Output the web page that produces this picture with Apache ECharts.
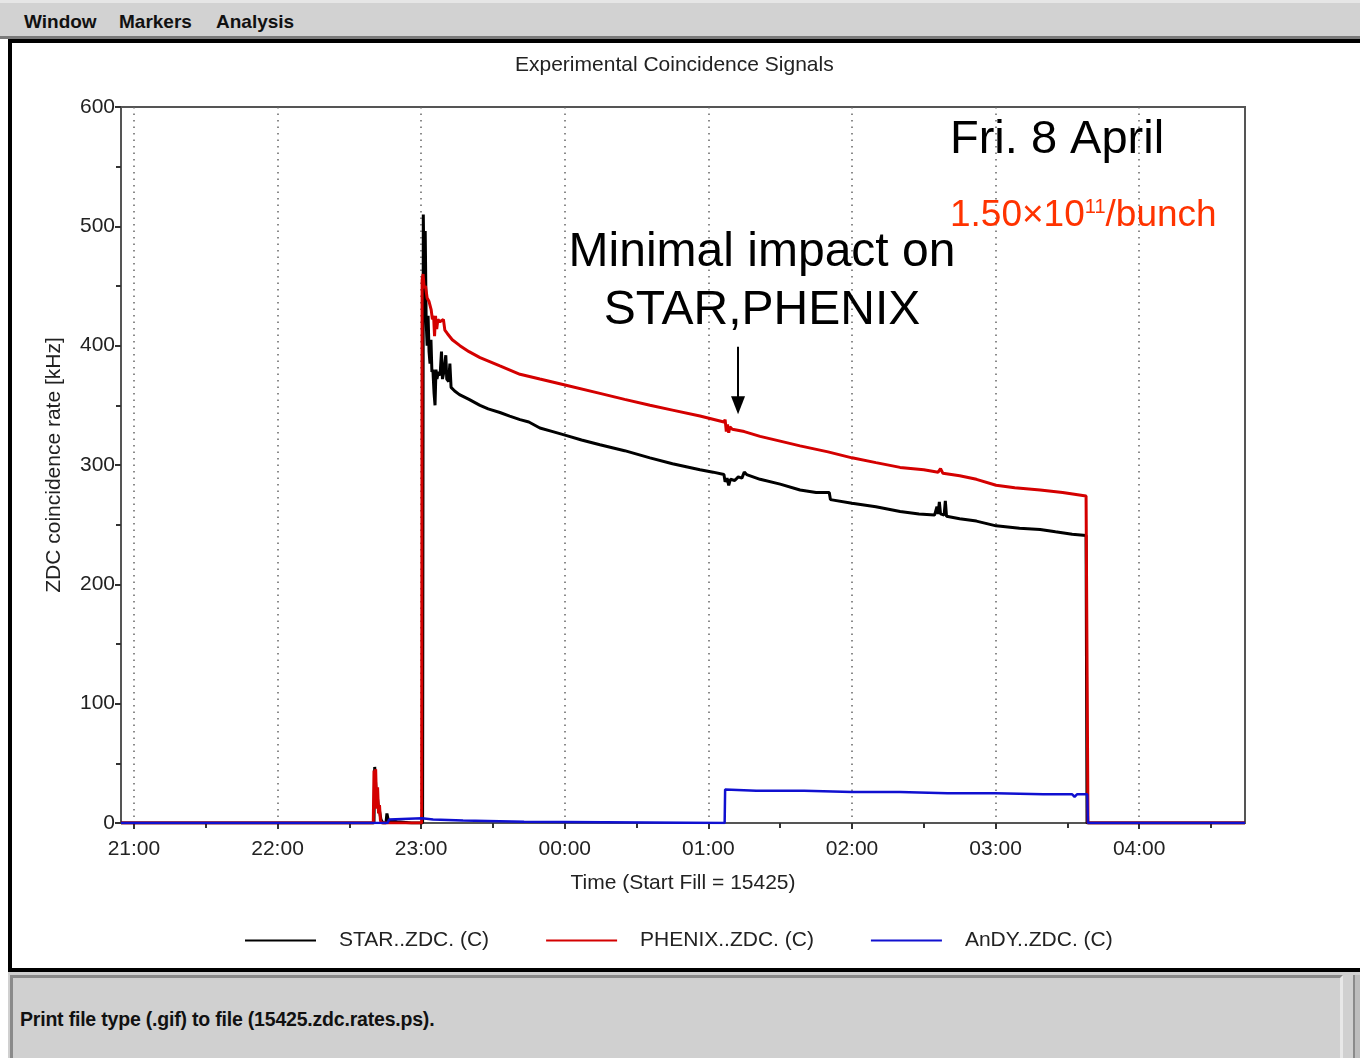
<!DOCTYPE html>
<html>
<head>
<meta charset="utf-8">
<script src="https://cdn.jsdelivr.net/npm/echarts@6/dist/echarts.min.js"></script>
<style>
  html, body { margin: 0; padding: 0; width: 1360px; height: 1058px; overflow: hidden; background: #fff; font-family: "Liberation Sans", Arial, sans-serif; }
  .abs { position: absolute; }
  #menubar { left: 0; top: 0; width: 1360px; height: 36px; background: #d2d2d2; border-top: 3px solid #e6e6e6; box-sizing: border-box; }
  #menubar span { position: absolute; top: 8px; font: bold 19px "Liberation Sans", Arial, sans-serif; color: #111; }
  #menuline { left: 0; top: 36px; width: 1360px; height: 3px; background: #7a7a7a; }
  #topblack { left: 8px; top: 39px; width: 1352px; height: 4px; background: #000; }
  #leftblack { left: 8px; top: 39px; width: 4px; height: 933px; background: #000; }
  #botblack { left: 8px; top: 968px; width: 1352px; height: 4px; background: #000; }
  #status { left: 8px; top: 972px; width: 1352px; height: 86px; background: #d0d0d0; }
  #statusbox { left: 10px; top: 975px; width: 1333px; height: 90px; border-top: 3px solid #8a8a8a; border-left: 3px solid #8a8a8a; border-right: 3px solid #e8e8e8; box-sizing: border-box; background: #d0d0d0; }
  #statustext { left: 20px; top: 1008px; font: bold 19.5px "Liberation Sans", Arial, sans-serif; color: #111; letter-spacing: -0.2px; }
  #scroll { left: 1353px; top: 975px; width: 7px; height: 83px; background: #bdbdbd; border-left: 2px solid #8a8a8a; box-sizing: border-box; }
  #chart { left: 0; top: 0; width: 1360px; height: 1058px; }
</style>
</head>
<body>
<div id="menubar" class="abs"><span style="left:24px">Window</span><span style="left:119px">Markers</span><span style="left:216px">Analysis</span></div>
<div id="menuline" class="abs"></div>
<div id="topblack" class="abs"></div>
<div id="leftblack" class="abs"></div>
<div id="botblack" class="abs"></div>
<div id="status" class="abs"></div>
<div id="statusbox" class="abs"></div>
<div id="scroll" class="abs"></div>
<div id="statustext" class="abs">Print file type (.gif) to file (15425.zdc.rates.ps).</div>
<div id="chart" class="abs"></div>
<script>
// Time axis in minutes since 21:00 (Fri. 8 April)
var xMin = -5.4, xMax = 464.2;
var xTickValues = [0, 60, 120, 180, 240, 300, 360, 420];
var xTickLabels = ['21:00', '22:00', '23:00', '00:00', '01:00', '02:00', '03:00', '04:00'];
var xMinorTickValues = [30, 90, 150, 210, 270, 330, 390, 450];

var seriesNames = ['STAR..ZDC. (C)', 'PHENIX..ZDC. (C)', 'AnDY..ZDC. (C)'];

var starT = [-5.4, 100.3, 100.6, 101.0, 101.3, 101.8, 102.2, 102.6, 103.2, 104.0, 105.3, 105.7, 106.3, 110, 116,
  120.6, 120.9, 121.3, 121.7, 122.1, 122.5, 122.9, 123.3, 123.7, 124.1, 124.5, 124.9, 125.4, 125.8, 126.2, 126.6,
  127.2, 127.9, 128.5, 128.9, 129.5, 130.3, 130.7, 131.5, 132.0, 132.5, 134, 136, 140, 144.6, 148, 152.9, 157,
  161.3, 165, 169.6, 175, 180.1, 187, 194.7, 205, 215.6, 225, 236.5, 242, 246.5, 247.0, 247.8, 248.5, 249.2, 251,
  252.5, 254, 255.0, 256, 261.6, 270, 278.3, 285, 290.5, 291, 300, 310, 320.1, 328, 334.5, 335.5, 336.0, 336.5,
  337.0, 338.5, 339.0, 339.5, 345, 352, 360.2, 370, 378.6, 385, 392, 397.8, 398.2, 464.2];
var starV = [0, 0, 47, 48, 22, 20, 12, 10, 3, 0, 0, 8, 2, 1, 0,
  0, 510, 440, 496, 420, 400, 425, 395, 385, 405, 378, 380, 360, 350, 380, 372,
  378, 375, 395, 372, 378, 392, 372, 370, 385, 365, 362, 359, 355, 350, 347, 344, 341,
  338, 336, 331, 328, 325, 321, 317, 312, 306, 301, 296, 294, 292, 286, 289, 283, 288, 287,
  290, 289, 294, 292, 288, 284, 279, 277, 277, 271, 268, 265, 261, 259, 258, 265, 259, 269,
  259, 258, 270, 257, 255, 253, 249, 247, 246, 244, 242, 241, 0, 0];

var phenixT = [-5.4, 100.0, 100.3, 100.7, 101.0, 101.4, 101.8, 102.2, 102.6, 103.0, 103.5, 120.2, 120.4, 120.8,
  121.3, 121.8, 122.5, 123.3, 124.2, 124.7, 125.2, 125.6, 126.0, 126.5, 127.0, 127.8, 128.5, 129.3, 129.9, 131,
  133, 136.2, 140, 144.6, 152.9, 161.3, 169.6, 180.1, 194.7, 205, 215.6, 225, 236.5, 246.5, 247.0, 247.5, 248.0,
  248.5, 249.0, 250, 255, 261.6, 270, 278.3, 290, 300, 310, 320.1, 330, 336, 337, 338, 345, 352, 360.2, 368,
  378.6, 388, 397.8, 398.5, 398.6, 464.2];
var phenixV = [0, 0, 44, 40, 45, 12, 30, 8, 15, 2, 0, 0, 455, 460,
  448, 450, 440, 437, 430, 422, 425, 408, 425, 414, 422, 420, 419, 422, 413, 410,
  405, 400, 395, 390, 383, 376, 372, 367, 360, 355, 350, 346, 341, 336, 338, 328, 334,
  327, 332, 330, 328, 324, 320, 316, 311, 306, 302, 298, 296, 294, 297, 293, 291, 288, 283, 281,
  279, 277, 274, 274, 0, 0];

var andyT = [-5.4, 106.0, 106.6, 107.2, 120.3, 120.6, 125, 125.5, 137.5, 138, 163, 163.2, 246.8, 247.0, 260, 280,
  300, 320, 340, 360, 380, 392, 393, 394, 398.3, 398.6, 464.2];
var andyV = [0, 0, 3, 4, 4, 3, 3, 2, 2, 1, 1, 0, 0, 28, 27, 27,
  26, 26, 25, 25, 24, 24, 22, 24, 24, 0, 0];

// arrow annotation (data coords): time, from-rate, to-rate
var arrowT = 252.4, arrowFrom = 399, arrowTo = 350;

function zip(t, v) { return t.map(function (x, i) { return [x, v[i]]; }); }

var FONT = '"Liberation Sans", Arial, sans-serif';
var TXT = '#222';

var chart = echarts.init(document.getElementById('chart'), null, { renderer: 'canvas' });
chart.setOption({
  animation: false,
  backgroundColor: 'transparent',
  title: {
    text: 'Experimental Coincidence Signals',
    left: 510, top: 50,
    textStyle: { fontFamily: FONT, fontSize: 21, fontWeight: 'normal', color: TXT }
  },
  legend: {
    left: 240, top: 925,
    icon: 'rect', itemWidth: 71, itemHeight: 2, itemGap: 57,
    textStyle: { fontFamily: FONT, fontSize: 21, color: TXT, padding: [0, 0, 0, 18] },
    data: seriesNames
  },
  grid: { left: 121, top: 107, right: 115, bottom: 235, show: true, borderColor: '#555', borderWidth: 2, backgroundColor: 'transparent' },
  xAxis: [{
    type: 'value', min: xMin, max: xMax,
    name: 'Time (Start Fill = 15425)', nameLocation: 'middle', nameGap: 50,
    nameTextStyle: { fontFamily: FONT, fontSize: 21, color: TXT },
    axisLine: { show: true, onZero: false, lineStyle: { color: '#555', width: 2 } },
    axisTick: { show: true, customValues: xTickValues, length: 6, lineStyle: { color: '#333', width: 2 } },
    axisLabel: {
      customValues: xTickValues, margin: 16, fontFamily: FONT, fontSize: 21, color: TXT,
      formatter: function (v) { var i = xTickValues.indexOf(v); return i >= 0 ? xTickLabels[i] : ''; }
    },
    splitLine: { show: true, lineStyle: { color: '#666', width: 1.5, type: [1.5, 5] } }
  }, {
    type: 'value', min: xMin, max: xMax, position: 'bottom',
    axisLine: { show: false, onZero: false },
    axisTick: { show: true, customValues: xMinorTickValues, length: 5, lineStyle: { color: '#333', width: 2 } },
    axisLabel: { show: false },
    splitLine: { show: false }
  }],
  yAxis: {
    type: 'value', min: 0, max: 600, interval: 100,
    name: 'ZDC coincidence rate [kHz]', nameLocation: 'middle', nameGap: 56,
    nameTextStyle: { fontFamily: FONT, fontSize: 21, color: TXT },
    axisLine: { show: true, onZero: false, lineStyle: { color: '#555', width: 2 } },
    axisTick: { show: true, length: 6, lineStyle: { color: '#333', width: 2 } },
    minorTick: { show: true, splitNumber: 2, length: 5, lineStyle: { color: '#333', width: 2 } },
    axisLabel: { margin: 6, fontFamily: FONT, fontSize: 21, color: TXT },
    splitLine: { show: false }
  },
  graphic: [
    { type: 'text', x: 950, y: 117, z: 100, style: { text: 'Fri. 8 April', font: '47px ' + FONT, fill: '#000' } },
    { type: 'text', x: 950, y: 192, z: 100, style: {
        text: '{a|1.50×10}{s|11}{a|/bunch}',
        rich: {
          a: { font: '37px ' + FONT, fill: '#ff3300', verticalAlign: 'bottom', lineHeight: 42 },
          s: { font: '20px ' + FONT, fill: '#ff3300', verticalAlign: 'top', lineHeight: 42, padding: [5, 0, 8, 0] }
        }
      } },
    { type: 'text', x: 762, y: 224, z: 100, style: {
        text: 'Minimal impact on\nSTAR,PHENIX', font: '48px ' + FONT, fill: '#000', align: 'center', lineHeight: 58
      } }
  ],
  series: [
    {
      name: seriesNames[0], type: 'line', data: zip(starT, starV), showSymbol: false, symbol: 'none',
      color: '#000', lineStyle: { color: '#000', width: 3 },
      markLine: {
        silent: true, symbol: ['none', 'triangle'], symbolSize: [14, 18],
        label: { show: false },
        lineStyle: { color: '#000', width: 2, type: 'solid' },
        data: [[{ coord: [arrowT, arrowFrom] }, { coord: [arrowT, arrowTo] }]]
      }
    },
    {
      name: seriesNames[1], type: 'line', data: zip(phenixT, phenixV), showSymbol: false, symbol: 'none',
      color: '#d40000', lineStyle: { color: '#d40000', width: 3 }
    },
    {
      name: seriesNames[2], type: 'line', data: zip(andyT, andyV), showSymbol: false, symbol: 'none',
      color: '#1010d0', lineStyle: { color: '#1010d0', width: 2.5 }
    }
  ]
});
</script>
</body>
</html>
